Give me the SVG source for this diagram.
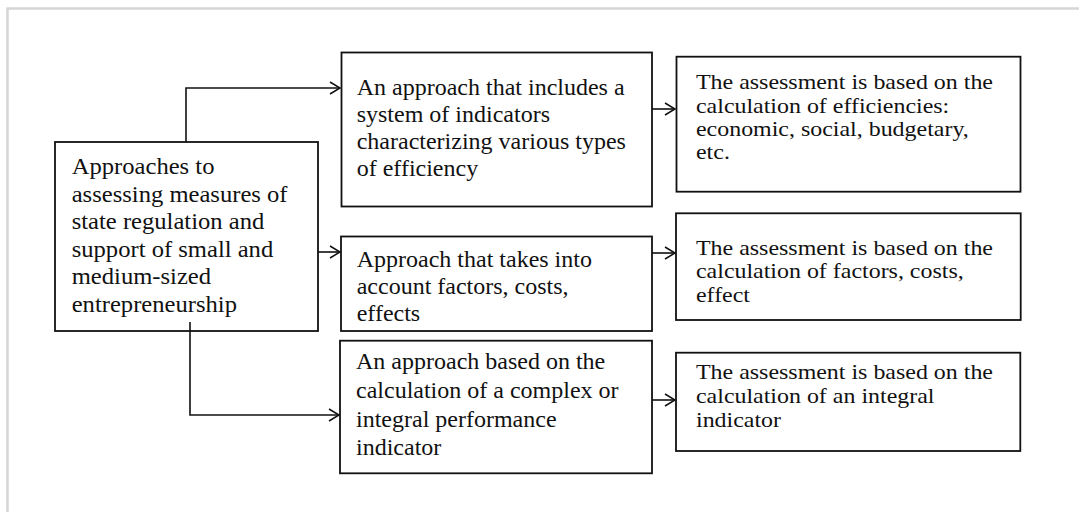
<svg xmlns="http://www.w3.org/2000/svg" width="1079" height="512" viewBox="0 0 1079 512">
  <defs>
    <marker id="arr" markerUnits="userSpaceOnUse" markerWidth="14" markerHeight="14" refX="11" refY="7" orient="auto">
      <path d="M1,1 L11,7 L1,13" fill="none" stroke="#111" stroke-width="1.5"/>
    </marker>
    <style>
      .box { fill: #fff; stroke: #111; stroke-width: 1.8; }
      .t { font-family: "Liberation Serif", "Times New Roman", serif; font-size: 24px; fill: #111; }
      .tr { font-family: "Liberation Serif", "Times New Roman", serif; font-size: 21px; fill: #111; }
      .c { fill: none; stroke: #111; stroke-width: 1.6; }
    </style>
  </defs>
  <rect x="0" y="0" width="1079" height="512" fill="#fff"/>
  <rect x="7.5" y="8.5" width="1100" height="600" fill="none" stroke="#d6d6d6" stroke-width="2.5"/>

  <g id="node-main">
    <rect class="box" x="55" y="142" width="263" height="189"/>
    <text class="t" transform="translate(71.7,0) scale(1.025,1)">
      <tspan x="0" y="174.3">Approaches to</tspan>
      <tspan x="0" y="201.7">assessing measures of</tspan>
      <tspan x="0" y="229.3">state regulation and</tspan>
      <tspan x="0" y="256.7">support of small and</tspan>
      <tspan x="0" y="284.3">medium-sized</tspan>
      <tspan x="0" y="311.7">entrepreneurship</tspan>
    </text>
  </g>
  <g id="node-m1">
    <rect class="box" x="341.5" y="52.5" width="310.5" height="154"/>
    <text class="t">
      <tspan x="356.7" y="95">An approach that includes a</tspan>
      <tspan x="356.7" y="122">system of indicators</tspan>
      <tspan x="356.7" y="149">characterizing various types</tspan>
      <tspan x="356.7" y="175.7">of efficiency</tspan>
    </text>
  </g>
  <g id="node-m2">
    <rect class="box" x="341" y="236.5" width="311" height="94.5"/>
    <text class="t">
      <tspan x="356.7" y="266.7">Approach that takes into</tspan>
      <tspan x="356.7" y="293.7">account factors, costs,</tspan>
      <tspan x="356.7" y="320.7">effects</tspan>
    </text>
  </g>
  <g id="node-m3">
    <rect class="box" x="340" y="340.7" width="312" height="132.6"/>
    <text class="t">
      <tspan x="356" y="369.3">An approach based on the</tspan>
      <tspan x="356" y="398.3">calculation of a complex or</tspan>
      <tspan x="356" y="426.7">integral performance</tspan>
      <tspan x="356" y="455">indicator</tspan>
    </text>
  </g>
  <g id="node-r1">
    <rect class="box" x="676.5" y="56.7" width="344" height="135"/>
    <text class="tr" transform="translate(696,0) scale(1.14,1)">
      <tspan x="0" y="89.3">The assessment is based on the</tspan>
      <tspan x="0" y="112.7">calculation of efficiencies:</tspan>
      <tspan x="0" y="136">economic, social, budgetary,</tspan>
      <tspan x="0" y="159.3">etc.</tspan>
    </text>
  </g>
  <g id="node-r2">
    <rect class="box" x="676" y="213.3" width="344.7" height="106.7"/>
    <text class="tr" transform="translate(696,0) scale(1.14,1)">
      <tspan x="0" y="255">The assessment is based on the</tspan>
      <tspan x="0" y="278.3">calculation of factors, costs,</tspan>
      <tspan x="0" y="301.7">effect</tspan>
    </text>
  </g>
  <g id="node-r3">
    <rect class="box" x="676" y="352.7" width="344.3" height="98.3"/>
    <text class="tr" transform="translate(696,0) scale(1.14,1)">
      <tspan x="0" y="379.3">The assessment is based on the</tspan>
      <tspan x="0" y="403">calculation of an integral</tspan>
      <tspan x="0" y="426.7">indicator</tspan>
    </text>
  </g>

  <g id="connectors">
    <path class="c" d="M186,142 V88 H340" marker-end="url(#arr)"/>
    <path class="c" d="M318,252 H340" marker-end="url(#arr)"/>
    <path class="c" d="M190,322 V415 H339" marker-end="url(#arr)"/>
    <path class="c" d="M652,109 H675" marker-end="url(#arr)"/>
    <path class="c" d="M652,253 H675" marker-end="url(#arr)"/>
    <path class="c" d="M652,400 H675" marker-end="url(#arr)"/>
  </g>
</svg>
